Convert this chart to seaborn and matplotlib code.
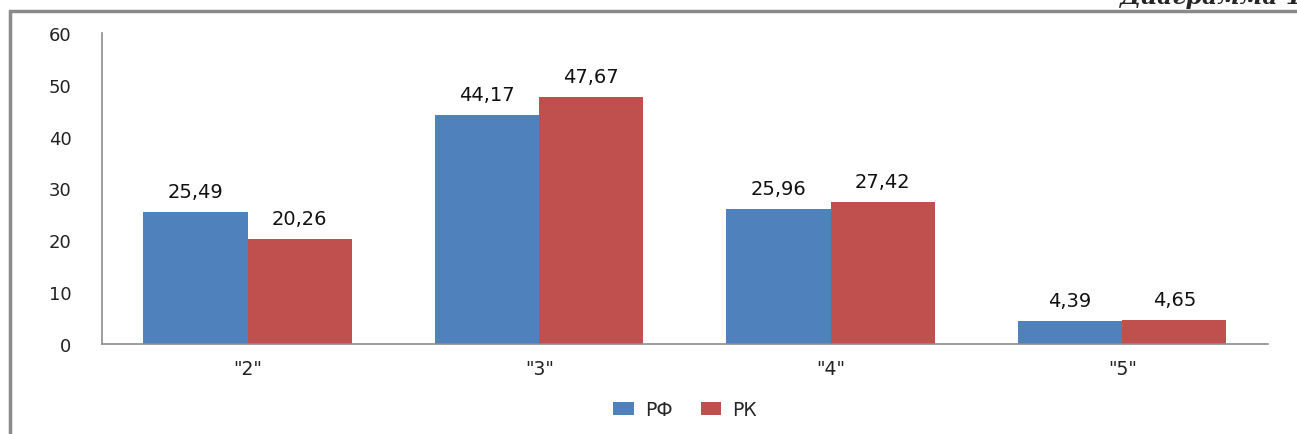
import matplotlib.pyplot as plt
import matplotlib.lines as mlines
import numpy as np
import pandas as pd
import seaborn as sns

# данные диаграммы
grades = ['"2"', '"3"', '"4"', '"5"']
rf = [25.49, 44.17, 25.96, 4.39]
rk = [20.26, 47.67, 27.42, 4.65]
series = ['РФ', 'РК']
colors = ['#4F81BD', '#C0504D']

df = pd.DataFrame({
    'grade': grades * 2,
    'value': rf + rk,
    'series': [series[0]] * len(grades) + [series[1]] * len(grades),
})

sns.set_style('white')
plt.rcParams['font.family'] = ['DejaVu Sans']

fig = plt.figure(figsize=(12.97, 4.35), dpi=100)
ax = fig.add_axes([0.0786, 0.207, 0.899, 0.715])

sns.barplot(data=df, x='grade', y='value', hue='series', palette=colors,
            width=0.715, saturation=1, linewidth=0, ax=ax, legend=True)

for cont in ax.containers:
    ax.bar_label(cont, labels=[f'{v:.2f}'.replace('.', ',') for v in cont.datavalues],
                 padding=8, fontsize=14, color='#111111')

ax.set_ylim(0, 60)
ax.set_yticks(np.arange(0, 61, 10))
ax.set_xlim(-0.5, 3.5)
ax.set_xlabel('')
ax.set_ylabel('')
ax.tick_params(axis='y', length=0, pad=22, labelsize=13, labelcolor='#222222')
ax.tick_params(axis='x', length=0, pad=11, labelsize=13.5, labelcolor='#222222')
for s in ['top', 'right']:
    ax.spines[s].set_visible(False)
for s in ['left', 'bottom']:
    ax.spines[s].set_color('#8c8c8c')
    ax.spines[s].set_linewidth(1.2)

ax.legend(loc='upper center', bbox_to_anchor=(0.5, -0.125), ncol=2, frameon=False,
          fontsize=13.5, handlelength=1.1, handleheight=0.7, columnspacing=1.5,
          handletextpad=0.6)

# рамка вокруг диаграммы
fig.add_artist(mlines.Line2D([10 / 1297, 10 / 1297], [0, 1 - 12 / 435],
                             transform=fig.transFigure, color='#8a8a8a', lw=2.5))
fig.add_artist(mlines.Line2D([10 / 1297, 1], [1 - 12 / 435, 1 - 12 / 435],
                             transform=fig.transFigure, color='#8a8a8a', lw=2.5))

fig.text(1.005, 1.008, 'Диаграмма 1', ha='right', va='center', fontsize=17,
         family='DejaVu Serif', style='italic', weight='bold')

fig.savefig('out.png', dpi=100)
